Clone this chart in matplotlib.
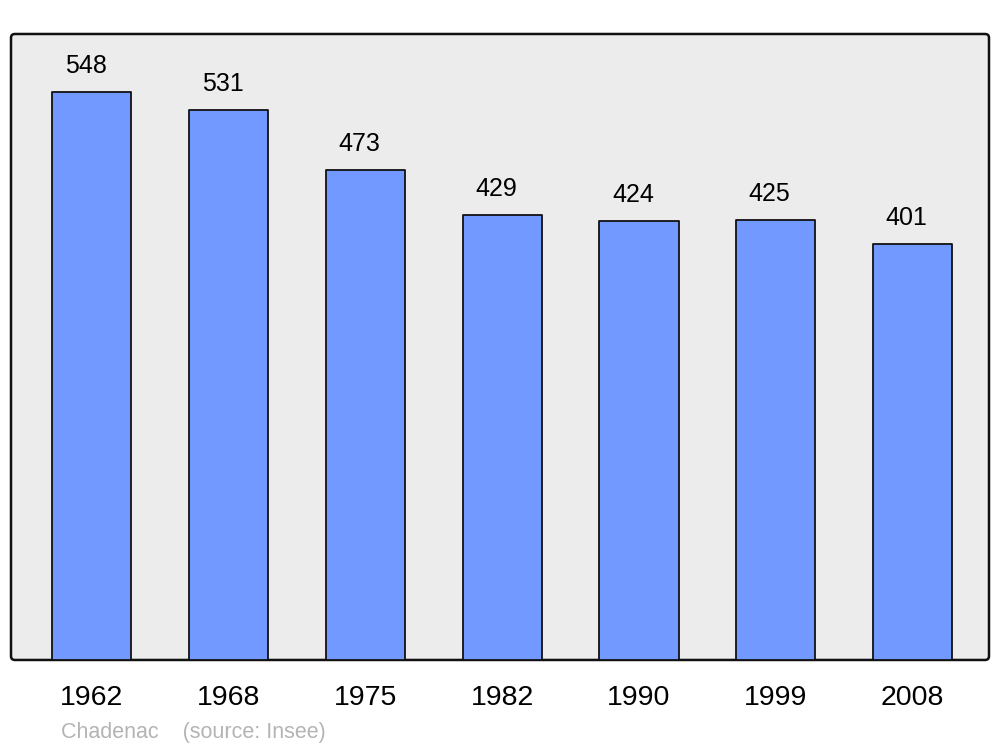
import matplotlib.pyplot as plt
from matplotlib.patches import FancyBboxPatch

plt.rcParams['font.family'] = ['Liberation Sans', 'DejaVu Sans']

years = ['1962', '1968', '1975', '1982', '1990', '1999', '2008']
population = [548, 531, 473, 429, 424, 425, 401]

fig = plt.figure(figsize=(10, 7.47), dpi=100)
ax = fig.add_axes([0.011, 0.1165, 0.978, 0.838])

# Grey rounded frame behind the bars
frame = FancyBboxPatch((0, 0), 1, 1,
                       boxstyle='round,pad=0,rounding_size=0.004',
                       mutation_aspect=978 / 626,
                       transform=ax.transAxes, facecolor='#ececec',
                       edgecolor='#111111', linewidth=1.8, zorder=0,
                       clip_on=False)
ax.add_patch(frame)

ax.set_facecolor('none')
x = list(range(len(years)))
bars = ax.bar(x, population, width=0.578, color='#7299ff',
              edgecolor='#111111', linewidth=1.3, zorder=2)
for b in bars:
    b.set_joinstyle('round')

for xi, v in zip(x, population):
    ax.text(xi - 0.045, v + 25, str(v), ha='center', va='center', fontsize=18)

ax.set_xlim(-0.592, 6.559)
ax.set_ylim(0, 604)
for s in ax.spines.values():
    s.set_visible(False)
ax.set_yticks([])
ax.set_xticks(x)
ax.set_xticklabels(years, fontsize=20.5)
ax.tick_params(axis='x', length=0, pad=18)

fig.text(0.061, 0.012, 'Chadenac    (source: Insee)', fontsize=15.5,
         color='#b4b4b4')

fig.savefig('out.png', dpi=100)
